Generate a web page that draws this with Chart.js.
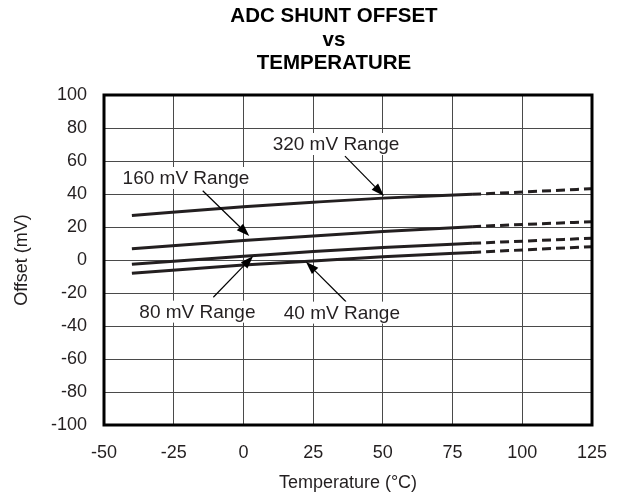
<!DOCTYPE html>
<html>
<head>
<meta charset="utf-8">
<script src="https://cdn.jsdelivr.net/npm/chart.js@4.4.1/dist/chart.umd.min.js"></script>
<style>
  html, body { margin: 0; padding: 0; background: #fff; }
  #wrap { width: 620px; height: 497px; }
</style>
</head>
<body>
<div id="wrap"><canvas id="c" width="620" height="497"></canvas></div>
<script>
// ---- Data ----
const temperatures = [-40, 0, 25, 50, 82, 125];
const offset320 = [27.0, 32.2, 35.0, 37.5, 39.8, 43.2];
const offset160 = [6.8, 11.8, 14.5, 17.2, 20.2, 23.2];
const offset80 = [-2.6, 2.2, 5.2, 7.6, 10.1, 13.2];
const offset40 = [-8.1, -3.0, -0.6, 1.9, 4.6, 8.1];
const solidUntil = 82; // beyond this temperature lines are dashed
const xTicks = [-50, -25, 0, 25, 50, 75, 100, 125];
const yTicks = [-100, -80, -60, -40, -20, 0, 20, 40, 60, 80, 100];
const titleLines = ['ADC SHUNT OFFSET', 'vs', 'TEMPERATURE'];
const seriesNames = ['320 mV Range', '160 mV Range', '80 mV Range', '40 mV Range'];

// Callout annotations in data coordinates
const calloutText = ['320 mV Range', '160 mV Range', '80 mV Range', '40 mV Range'];
const calloutTextX = [33.2, -20.6, -16.5, 35.3];
const calloutTextY = [70.3, 49.7, -31.3, -31.9];
const arrowFromX = [36.4, -14.6, -10.8, 36.8];
const arrowFromY = [63.0, 42.0, -22.6, -25.3];
const arrowToX = [50.4, 2.1, 3.5, 22.4];
const arrowToY = [38.8, 14.5, 2.4, -1.0];

const TEXT = '#231f20';
const FONT = 'Liberation Sans, Arial, Helvetica, sans-serif';

function toPoints(vals) { return temperatures.map((t, i) => ({x: t, y: vals[i]})); }

const allSeries = [offset320, offset160, offset80, offset40];
const datasets = allSeries.map((vals, i) => ({
  label: seriesNames[i],
  data: toPoints(vals),
  borderColor: '#231f20',
  borderWidth: 3,
  pointRadius: 0,
  fill: false,
  cubicInterpolationMode: 'monotone',
  segment: {
    borderDash: ctx => ctx.p0.parsed.x >= solidUntil ? [9, 5] : undefined
  }
}));

const titlePlugin = {
  id: 'multiTitle',
  afterDraw(chart) {
    const ctx = chart.ctx;
    ctx.save();
    ctx.fillStyle = '#000';
    ctx.font = 'bold 20.5px ' + FONT;
    ctx.textAlign = 'center';
    ctx.textBaseline = 'middle';
    const cx = 334;
    const ys = [16, 40, 63];
    titleLines.forEach((t, i) => ctx.fillText(t, cx, ys[i]));
    ctx.restore();
  }
};

const framePlugin = {
  id: 'frame',
  afterDatasetsDraw(chart) {
    const {ctx, chartArea: a} = chart;
    ctx.save();
    ctx.strokeStyle = '#000';
    ctx.lineWidth = 3;
    ctx.strokeRect(a.left, a.top, a.right - a.left, a.bottom - a.top);
    ctx.restore();
  }
};

const calloutPlugin = {
  id: 'callouts',
  afterDatasetsDraw(chart) {
    const ctx = chart.ctx;
    const xs = chart.scales.x, ys = chart.scales.y;
    ctx.save();
    ctx.font = '19px ' + FONT;
    ctx.textAlign = 'center';
    ctx.textBaseline = 'middle';
    calloutText.forEach((t, i) => {
      const x0 = xs.getPixelForValue(arrowFromX[i]);
      const y0 = ys.getPixelForValue(arrowFromY[i]);
      const x1 = xs.getPixelForValue(arrowToX[i]);
      const y1 = ys.getPixelForValue(arrowToY[i]);
      const ang = Math.atan2(y1 - y0, x1 - x0);
      const headLen = 13, headW = 4.5;
      const bx = x1 - headLen * Math.cos(ang), by = y1 - headLen * Math.sin(ang);
      ctx.strokeStyle = '#000';
      ctx.lineWidth = 1.2;
      ctx.beginPath();
      ctx.moveTo(x0, y0);
      ctx.lineTo(bx, by);
      ctx.stroke();
      ctx.fillStyle = '#000';
      ctx.beginPath();
      ctx.moveTo(x1, y1);
      ctx.lineTo(bx + headW * Math.sin(ang), by - headW * Math.cos(ang));
      ctx.lineTo(bx - headW * Math.sin(ang), by + headW * Math.cos(ang));
      ctx.closePath();
      ctx.fill();
      const tx = xs.getPixelForValue(calloutTextX[i]);
      const ty = ys.getPixelForValue(calloutTextY[i]);
      const w = ctx.measureText(t).width;
      ctx.fillStyle = '#fff';
      ctx.fillRect(tx - w / 2 - 2, ty - 11, w + 4, 22);
      ctx.fillStyle = TEXT;
      ctx.fillText(t, tx, ty + 1);
    });
    ctx.restore();
  }
};

new Chart(document.getElementById('c'), {
  type: 'line',
  data: { datasets },
  plugins: [titlePlugin, framePlugin, calloutPlugin],
  options: {
    responsive: false,
    animation: false,
    devicePixelRatio: 1,
    layout: { padding: { top: 95, right: 28, bottom: 0, left: 0 } },
    plugins: {
      legend: { display: false },
      tooltip: { enabled: false },
      title: { display: false }
    },
    scales: {
      x: {
        type: 'linear',
        min: -50, max: 125,
        afterBuildTicks: s => { s.ticks = xTicks.map(v => ({value: v})); },
        afterFit: s => { s.height = 72; s.paddingRight = 0; s.paddingLeft = 0; },
        ticks: { color: TEXT, font: { family: FONT, size: 18 }, padding: 17, maxRotation: 0 },
        grid: { color: '#4a4a4a', lineWidth: 1, drawTicks: false },
        border: { display: false },
        title: { display: true, text: 'Temperature (°C)', color: TEXT, font: { family: FONT, size: 18 }, padding: { top: 0, bottom: 3 } }
      },
      y: {
        type: 'linear',
        min: -100, max: 100,
        afterBuildTicks: s => { s.ticks = yTicks.map(v => ({value: v})); },
        afterFit: s => { s.width = 104; s.paddingTop = 0; s.paddingBottom = 0; },
        ticks: { color: TEXT, font: { family: FONT, size: 18 }, padding: 17 },
        grid: { color: '#4a4a4a', lineWidth: 1, drawTicks: false },
        border: { display: false },
        title: { display: true, text: 'Offset (mV)', color: TEXT, font: { family: FONT, size: 18 }, padding: { top: 11, bottom: 0 } }
      }
    }
  }
});
</script>
</body>
</html>
